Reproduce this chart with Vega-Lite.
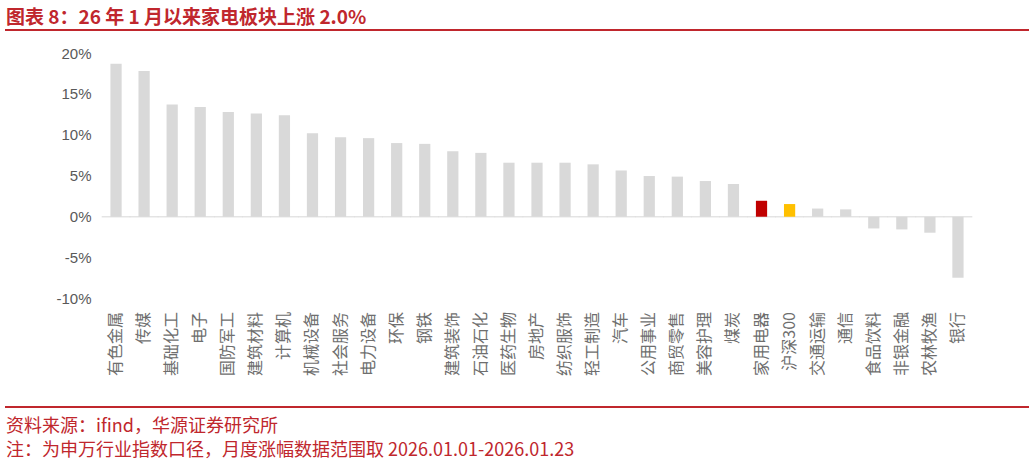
{
  "$schema": "https://vega.github.io/schema/vega-lite/v6.json",
  "padding": {"left": 5, "right": 4, "top": 8, "bottom": 0},
  "background": "white",
  "spacing": 14,
  "config": {"view": {"stroke": null}},
  "datasets": {
    "sectors": [
      {"行业": "有色金属", "涨幅": 18.7},
      {"行业": "传媒", "涨幅": 17.8},
      {"行业": "基础化工", "涨幅": 13.7},
      {"行业": "电子", "涨幅": 13.4},
      {"行业": "国防军工", "涨幅": 12.8},
      {"行业": "建筑材料", "涨幅": 12.6},
      {"行业": "计算机", "涨幅": 12.4},
      {"行业": "机械设备", "涨幅": 10.2},
      {"行业": "社会服务", "涨幅": 9.7},
      {"行业": "电力设备", "涨幅": 9.6},
      {"行业": "环保", "涨幅": 9.0},
      {"行业": "钢铁", "涨幅": 8.9},
      {"行业": "建筑装饰", "涨幅": 8.0},
      {"行业": "石油石化", "涨幅": 7.8},
      {"行业": "医药生物", "涨幅": 6.6},
      {"行业": "房地产", "涨幅": 6.6},
      {"行业": "纺织服饰", "涨幅": 6.6},
      {"行业": "轻工制造", "涨幅": 6.4},
      {"行业": "汽车", "涨幅": 5.65},
      {"行业": "公用事业", "涨幅": 4.97},
      {"行业": "商贸零售", "涨幅": 4.9},
      {"行业": "美容护理", "涨幅": 4.36},
      {"行业": "煤炭", "涨幅": 4.0},
      {"行业": "家用电器", "涨幅": 1.95},
      {"行业": "沪深300", "涨幅": 1.55},
      {"行业": "交通运输", "涨幅": 1.0},
      {"行业": "通信", "涨幅": 0.9},
      {"行业": "食品饮料", "涨幅": -1.43},
      {"行业": "非银金融", "涨幅": -1.55},
      {"行业": "农林牧渔", "涨幅": -1.95},
      {"行业": "银行", "涨幅": -7.45}
    ],
    "empty": []
  },
  "vconcat": [
    {
      "width": 1022,
      "height": 0.01,
      "view": {"stroke": "#c0272d", "strokeWidth": 2},
      "title": {
        "text": "图表 8：26 年 1 月以来家电板块上涨 2.0%",
        "anchor": "start",
        "font": "Noto Sans CJK SC",
        "fontSize": 19,
        "fontWeight": "bold",
        "color": "#c0272d",
        "offset": 2
      },
      "data": {"name": "empty"},
      "mark": "point",
      "encoding": {}
    },
    {
      "width": 1022,
      "height": 245.6,
      "data": {"name": "sectors"},
      "encoding": {
        "x": {
          "field": "行业",
          "type": "nominal",
          "sort": null,
          "scale": {"range": [96, 966], "paddingInner": 0.6, "paddingOuter": 0.3},
          "axis": {
            "title": null,
            "labelAngle": 270,
            "ticks": false,
            "domain": false,
            "labelPadding": 13,
            "labelFont": "Noto Sans CJK SC",
            "labelFontSize": 16,
            "labelColor": "#6e6e6e",
            "minExtent": 92.6
          }
        }
      },
      "layer": [
        {
          "mark": {"type": "tick", "orient": "horizontal", "color": "#d9d9d9", "size": 28.6, "thickness": 1.5},
          "encoding": {"y": {"datum": 0, "type": "quantitative"}}
        },
        {
          "mark": {"type": "bar"},
          "encoding": {
            "y": {
              "field": "涨幅",
              "type": "quantitative",
              "scale": {"domain": [-10, 20], "nice": false},
              "axis": {
                "title": null,
                "values": [-10, -5, 0, 5, 10, 15, 20],
                "labelExpr": "datum.value + '%'",
                "domain": false,
                "ticks": false,
                "grid": false,
                "offset": -96,
                "labelPadding": 11,
                "labelFont": "Liberation Sans",
                "labelFontSize": 15,
                "labelColor": "#595959"
              }
            },
            "color": {
              "condition": [
                {"test": "datum['行业'] === '家用电器'", "value": "#c00000"},
                {"test": "datum['行业'] === '沪深300'", "value": "#ffc000"}
              ],
              "value": "#d9d9d9"
            }
          }
        }
      ]
    },
    {
      "width": 1022,
      "height": 0.01,
      "view": {"stroke": "#c0272d", "strokeWidth": 2},
      "title": {
        "text": ["资料来源：ifind，华源证券研究所", "注：为申万行业指数口径，月度涨幅数据范围取 2026.01.01-2026.01.23"],
        "orient": "bottom",
        "anchor": "start",
        "font": "Noto Sans CJK SC",
        "fontSize": 18,
        "fontWeight": "normal",
        "color": "#c0272d",
        "lineHeight": 23.5,
        "offset": 11
      },
      "data": {"name": "empty"},
      "mark": "point",
      "encoding": {}
    }
  ]
}
